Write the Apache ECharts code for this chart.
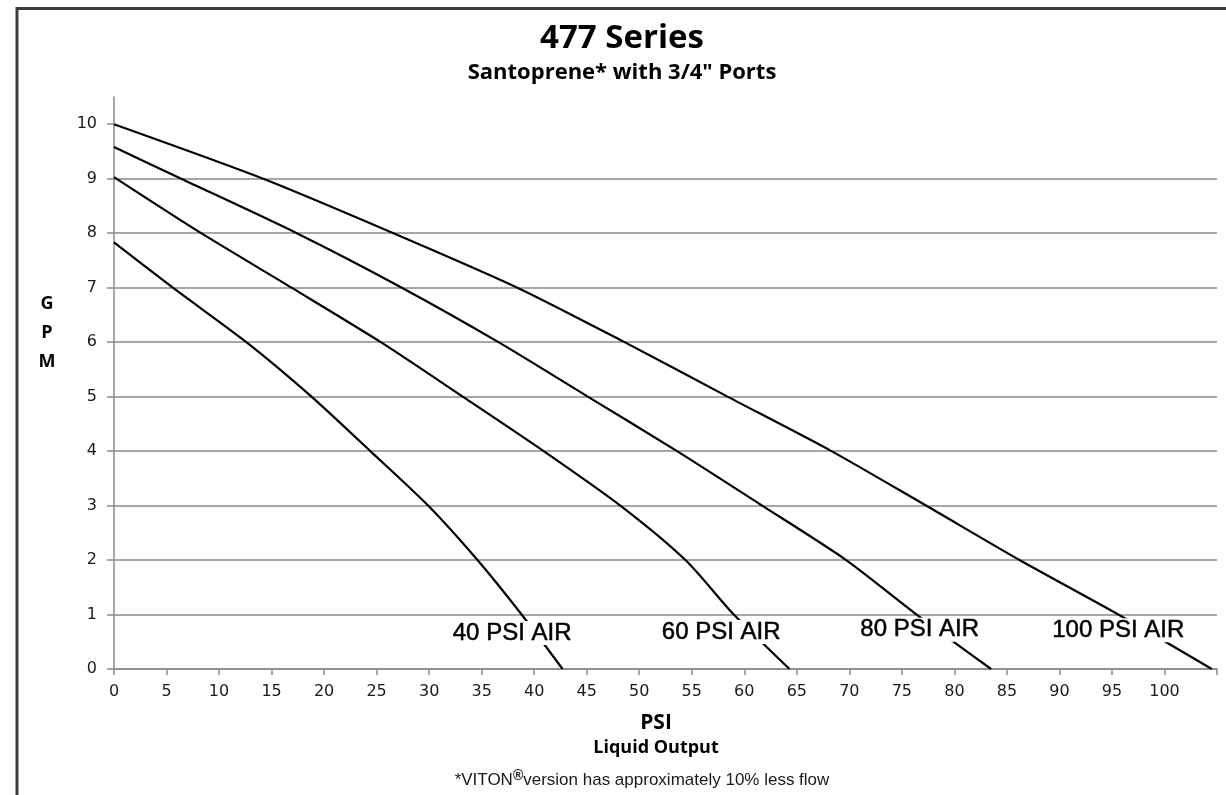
<!DOCTYPE html>
<html>
<head>
<meta charset="utf-8">
<script src="https://cdn.jsdelivr.net/npm/echarts@6/dist/echarts.min.js"></script>
<style>
html,body{margin:0;padding:0;background:#fff;}
#chart{width:1226px;height:795px;}
</style>
</head>
<body>
<div id="chart"></div>
<script>
// Data: [PSI liquid output, GPM]
var psi100 = [[0,10],[14.2,9],[26.6,8],[38.4,7],[48.6,6],[58.4,5],[68.3,4],[77.3,3],[86.2,2],[95.6,1],[104.5,0]];
var psi80  = [[0,9.58],[6.4,9],[17.4,8],[27.4,7],[36.6,6],[45.1,5],[53.6,4],[61.7,3],[69.7,2],[76.4,1],[83.5,0]];
var psi60  = [[0,9.03],[8.3,8],[16.9,7],[25.4,6],[33.2,5],[40.9,4],[48.2,3],[54.4,2],[59.0,1],[64.3,0]];
var psi40  = [[0,7.83],[5.6,7],[12.6,6],[18.8,5],[24.4,4],[29.9,3],[34.6,2],[38.8,1],[42.7,0]];

var curveNames = ['40 PSI AIR','60 PSI AIR','80 PSI AIR','100 PSI AIR'];
var labelX = [37.9, 57.8, 76.7, 95.6];
var labelY = [0.66, 0.68, 0.72, 0.71];

var xTicks = [0,5,10,15,20,25,30,35,40,45,50,55,60,65,70,75,80,85,90,95,100];
var yTicks = [0,1,2,3,4,5,6,7,8,9,10];

var chart = echarts.init(document.getElementById('chart'), null, {renderer:'canvas'});

function lineSeries(data){
  return {
    type:'line', data:data, smooth:0.25, showSymbol:false, symbol:'none',
    lineStyle:{color:'#000', width:2.2}, z:3, silent:true
  };
}

var labelData = curveNames.map(function(n,i){ return {name:n, value:[labelX[i], labelY[i]]}; });

var option = {
  animation:false,
  backgroundColor:'#fff',
  grid:{left:114, right:9, top:97, bottom:126, containLabel:false},
  xAxis:{
    type:'value', min:0, max:105, interval:5,
    axisLine:{show:true, onZero:false, lineStyle:{color:'#8a8a8a', width:1.5}},
    axisTick:{show:true, length:6, lineStyle:{color:'#8a8a8a', width:1.5}},
    axisLabel:{
      show:true, margin:15, color:'#1a1a1a', fontFamily:'DejaVu Sans', fontSize:16,
      formatter:function(v){ return xTicks.indexOf(v) >= 0 ? String(v) : ''; }
    },
    splitLine:{show:false}
  },
  yAxis:{
    type:'value', min:0, max:10.5, interval:1,
    axisLine:{show:true, onZero:false, lineStyle:{color:'#8a8a8a', width:1.5}},
    axisTick:{show:true, length:7, customValues:yTicks, lineStyle:{color:'#8a8a8a', width:1.5}},
    axisLabel:{
      show:true, margin:17, color:'#1a1a1a', fontFamily:'DejaVu Sans', fontSize:16,
      customValues:yTicks,
      formatter:function(v){ return yTicks.indexOf(v) >= 0 ? String(v) : ''; }
    },
    splitLine:{show:true, showMaxLine:false, lineStyle:{color:'#8a8a8a', width:1.5}}
  },
  series:[
    lineSeries(psi40), lineSeries(psi60), lineSeries(psi80), lineSeries(psi100),
    {
      type:'scatter', data:labelData, symbol:'rect', symbolSize:1, z:10, zlevel:0, silent:true,
      itemStyle:{color:'#fff', opacity:1},
      label:{
        show:true, position:'inside', formatter:'{b}', opacity:1,
        fontFamily:'Liberation Sans', fontSize:24, lineHeight:24, color:'#000',
        textBorderColor:'#000', textBorderWidth:0.5,
        backgroundColor:'#ffffff', padding:[0,3,0,3]
      },
      emphasis:{disabled:true}
    }
  ],
  graphic:[
    {type:'rect', silent:true, shape:{x:17, y:8.5, width:1300, height:900},
     style:{fill:'none', stroke:'#3c3c3c', lineWidth:3}},
    {type:'text', x:622, y:39, silent:true,
     style:{text:'477 Series', textAlign:'center', textVerticalAlign:'middle',
            font:'bold 33px "Open Sans"', fill:'#000'}},
    {type:'text', x:622, y:73, silent:true,
     style:{text:'Santoprene* with 3/4" Ports', textAlign:'center', textVerticalAlign:'middle',
            font:'bold 22px "Open Sans"', fill:'#000'}},
    {type:'text', x:47, y:304, silent:true,
     style:{text:'G', textAlign:'center', textVerticalAlign:'middle', font:'bold 18px "Open Sans"', fill:'#000'}},
    {type:'text', x:47, y:333, silent:true,
     style:{text:'P', textAlign:'center', textVerticalAlign:'middle', font:'bold 18px "Open Sans"', fill:'#000'}},
    {type:'text', x:47, y:362, silent:true,
     style:{text:'M', textAlign:'center', textVerticalAlign:'middle', font:'bold 18px "Open Sans"', fill:'#000'}},
    {type:'text', x:656, y:723, silent:true,
     style:{text:'PSI', textAlign:'center', textVerticalAlign:'middle', font:'bold 21px "Open Sans"', fill:'#000'}},
    {type:'text', x:656, y:748, silent:true,
     style:{text:'Liquid Output', textAlign:'center', textVerticalAlign:'middle', font:'bold 18px "Open Sans"', fill:'#000'}},
    {type:'text', x:642, y:780, silent:true,
     style:{text:'*VITON{sup|®}version has approximately 10% less flow', textAlign:'center', textVerticalAlign:'middle',
            font:'17px "Liberation Sans"', fill:'#1a1a1a',
            rich:{sup:{fontSize:14, fontWeight:'bold', verticalAlign:'top', fill:'#1a1a1a', padding:[0,0,8,0]}}}}
  ]
};
chart.setOption(option);
</script>
</body>
</html>
